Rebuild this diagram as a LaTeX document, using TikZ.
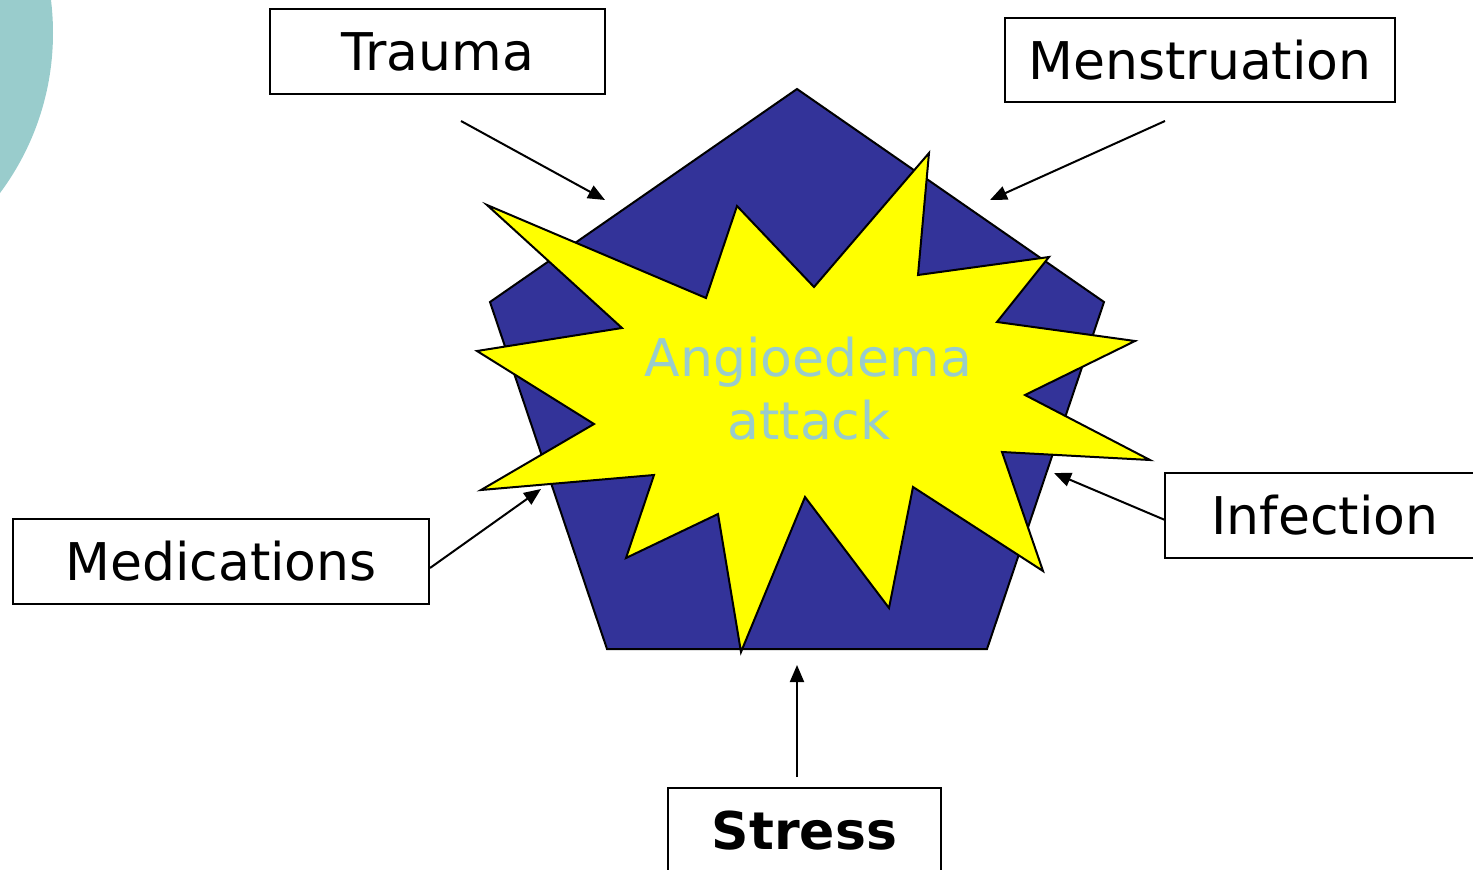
\documentclass[tikz,border=0pt]{standalone}
\usepackage{fontspec}
\setmainfont{DejaVu Sans}
\usetikzlibrary{arrows.meta}
\definecolor{paleteal}{HTML}{99CCCC}
\definecolor{pentablue}{HTML}{333399}
\definecolor{burstyellow}{HTML}{FFFF00}
\begin{document}
\begin{tikzpicture}[x=1pt,y=-1pt,
  labelbox/.style={draw=black, line width=2pt, fill=white, inner sep=0pt,
    font=\fontsize{52}{61}\selectfont, text height=38pt, text depth=0pt},
  trigger/.style={draw=black, line width=2pt, -{Triangle[length=17pt,width=14pt]}},
  bursttext/.style={text=paleteal, font=\fontsize{52}{61}\selectfont, inner sep=0pt, anchor=base},
  outline/.style={draw=black, line width=2pt, line join=miter}]
\useasboundingbox (0,0) rectangle (1473,870);
\clip (0,0) rectangle (1473,870);

% decorative disc in the corner
\fill[paleteal] (-215,33) circle[radius=268];

% pentagon behind the burst
\filldraw[outline, fill=pentablue]
  (797,89) -- (1104,302) -- (987,649) -- (607,649) -- (490,302) -- cycle;

% starburst
\filldraw[outline, fill=burstyellow]
  (487,205) -- (706,298) -- (737,206) -- (814,287) -- (929,153) -- (918,275)
  -- (1049,257) -- (997,322) -- (1135,341) -- (1025,395) -- (1150,460)
  -- (1002,452) -- (1043,571) -- (913,487) -- (889,608) -- (805,497)
  -- (741,652) -- (718,514) -- (626,558) -- (654,475) -- (481,490)
  -- (594,424) -- (477,351) -- (622,328) -- cycle;

\node[bursttext] (angio) at (808.5,376) {Angioedema};
\node[bursttext] (attack) at (809,439) {attack};

% trigger labels
\node[labelbox, minimum width=335pt, minimum height=85pt] (trauma) at (437.5,51.5) {Trauma};
\node[labelbox, minimum width=390pt, minimum height=84pt] (menstruation) at (1200,60) {Menstruation};
\node[labelbox, minimum width=416pt, minimum height=85pt] (medications) at (221,561.5) {Medications};
\node[labelbox, minimum width=320pt, minimum height=85pt] (infection) at (1325,515.5) {Infection};
\node[labelbox, minimum width=273pt, minimum height=85pt, font=\fontsize{52}{61}\selectfont\bfseries] (stress) at (804.5,830.5) {Stress};

% arrow end points
\coordinate (traumaFrom) at (461,121);
\coordinate (traumaTo) at (605,200);
\coordinate (menstruationFrom) at (1165,121);
\coordinate (menstruationTo) at (990,200);
\coordinate (medicationsFrom) at (430,568);
\coordinate (medicationsTo) at (541,489);
\coordinate (infectionFrom) at (1165,520);
\coordinate (infectionTo) at (1054,473);
\coordinate (stressFrom) at (797,777);
\coordinate (stressTo) at (797,665);

\draw[trigger] (traumaFrom) -- (traumaTo);
\draw[trigger] (menstruationFrom) -- (menstruationTo);
\draw[trigger] (medicationsFrom) -- (medicationsTo);
\draw[trigger] (infectionFrom) -- (infectionTo);
\draw[trigger] (stressFrom) -- (stressTo);
\end{tikzpicture}
\end{document}
